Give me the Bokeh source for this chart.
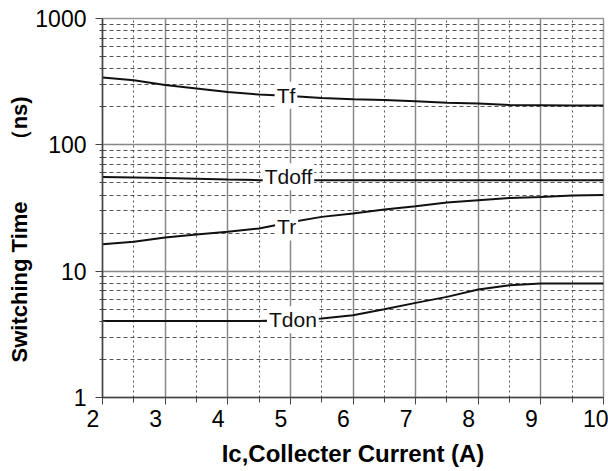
from bokeh.plotting import figure
from bokeh.models import FixedTicker, Range1d
from bokeh.core.properties import value
from bokeh.embed import file_html
from bokeh.resources import INLINE

# Collector current (A)
x_current = [2, 2.5, 3, 3.5, 4, 4.5, 5, 5.5, 6, 6.5, 7, 7.5, 8, 8.5, 9, 9.5, 10]
# Switching times (ns)
tf = [341, 325, 297, 279, 262, 250, 243, 235, 230, 226, 221, 215, 212, 207, 206, 205, 205]
tdoff = [55.7, 55.2, 54.7, 54.0, 53.2, 52.5, 52.5, 52.5, 52.5, 52.5, 52.5, 52.5, 52.5, 52.5, 52.5, 52.5, 52.5]
tr = [16.35, 17.06, 18.5, 19.5, 20.5, 21.8, 24.4, 26.9, 28.6, 30.8, 32.7, 35.0, 36.5, 38.0, 38.7, 39.7, 40.0]
tdon = [4.04, 4.04, 4.04, 4.04, 4.04, 4.04, 4.1, 4.22, 4.48, 5.0, 5.61, 6.26, 7.16, 7.75, 7.99, 8.0, 8.0]

label_text = ["Tf", "Tdoff", "Tr", "Tdon"]
label_x = [4.93, 4.97, 4.94, 5.04]
label_y = [247, 55.8, 22.4, 4.13]

x_ticks = [2, 3, 4, 5, 6, 7, 8, 9, 10]
x_minor = [2.5, 3.5, 4.5, 5.5, 6.5, 7.5, 8.5, 9.5]
y_ticks = [1, 10, 100, 1000]
y_minor = [m * d for d in [1, 10, 100] for m in range(2, 10)]

FONT = "Liberation Sans"

p = figure(width=608, height=471, x_range=Range1d(2, 10), y_range=Range1d(1, 1000),
           y_axis_type="log", output_backend="svg", toolbar_location=None,
           min_border_left=102, min_border_right=5, min_border_top=18, min_border_bottom=74)
p.background_fill_color = "white"
p.border_fill_color = "white"
p.outline_line_color = "#999999"
p.outline_line_width = 1.5

p.xaxis.ticker = FixedTicker(ticks=x_ticks, minor_ticks=x_minor)
p.yaxis.ticker = FixedTicker(ticks=y_ticks, minor_ticks=y_minor)
p.xaxis.major_label_overrides = {t: (str(t) + "\u00a0\u00a0\u00a0" if t < 10 else str(t)) for t in x_ticks}
p.yaxis.major_label_overrides = {t: str(t) for t in y_ticks}

for ax in (p.xaxis, p.yaxis):
    ax.axis_line_color = "#444444"
    ax.axis_line_width = 1.5
    ax.major_tick_line_color = "#444444"
    ax.minor_tick_line_color = "#444444"
    ax.major_tick_in = 0
    ax.major_tick_out = 7
    ax.major_label_text_font = FONT
    ax.major_label_text_font_size = "23px"
    ax.major_label_text_color = "black"
    ax.axis_label_text_font = FONT
    ax.axis_label_text_font_style = "bold"
    ax.axis_label_text_color = "black"

p.xaxis.minor_tick_in = 0
p.xaxis.minor_tick_out = 5
p.yaxis.minor_tick_in = 3
p.yaxis.minor_tick_out = 3
p.xaxis.major_label_standoff = 1
p.yaxis.major_label_standoff = 9

p.xaxis.axis_label = "I\u1d04,Collecter Current (A)"
p.xaxis.axis_label_text_font_size = "24px"
p.xaxis.axis_label_standoff = 5
p.yaxis.axis_label = "Switching Time \u3000\u3000\uff08ns)" + "\u00a0" * 7
p.yaxis.axis_label_text_font_size = "22px"
p.yaxis.axis_label_standoff = 0

p.xgrid.grid_line_color = "#888888"
p.xgrid.grid_line_width = 1.5
p.xgrid.minor_grid_line_color = "#555555"
p.xgrid.minor_grid_line_dash = "2 3"
p.xgrid.minor_grid_line_width = 1
p.ygrid.grid_line_color = "#888888"
p.ygrid.grid_line_width = 1.5
p.ygrid.minor_grid_line_color = "#555555"
p.ygrid.minor_grid_line_dash = "4 3"
p.ygrid.minor_grid_line_width = 1

for series in (tf, tdoff, tr, tdon):
    p.line(x_current, series, line_color="#111111", line_width=2)

p.text(x=label_x, y=label_y, text=label_text, text_font=value(FONT), text_font_size="21px",
       text_color="#111111", text_align="center", text_baseline="middle",
       background_fill_color="white", padding=2)

open("out.html", "w").write(file_html(p, INLINE))
